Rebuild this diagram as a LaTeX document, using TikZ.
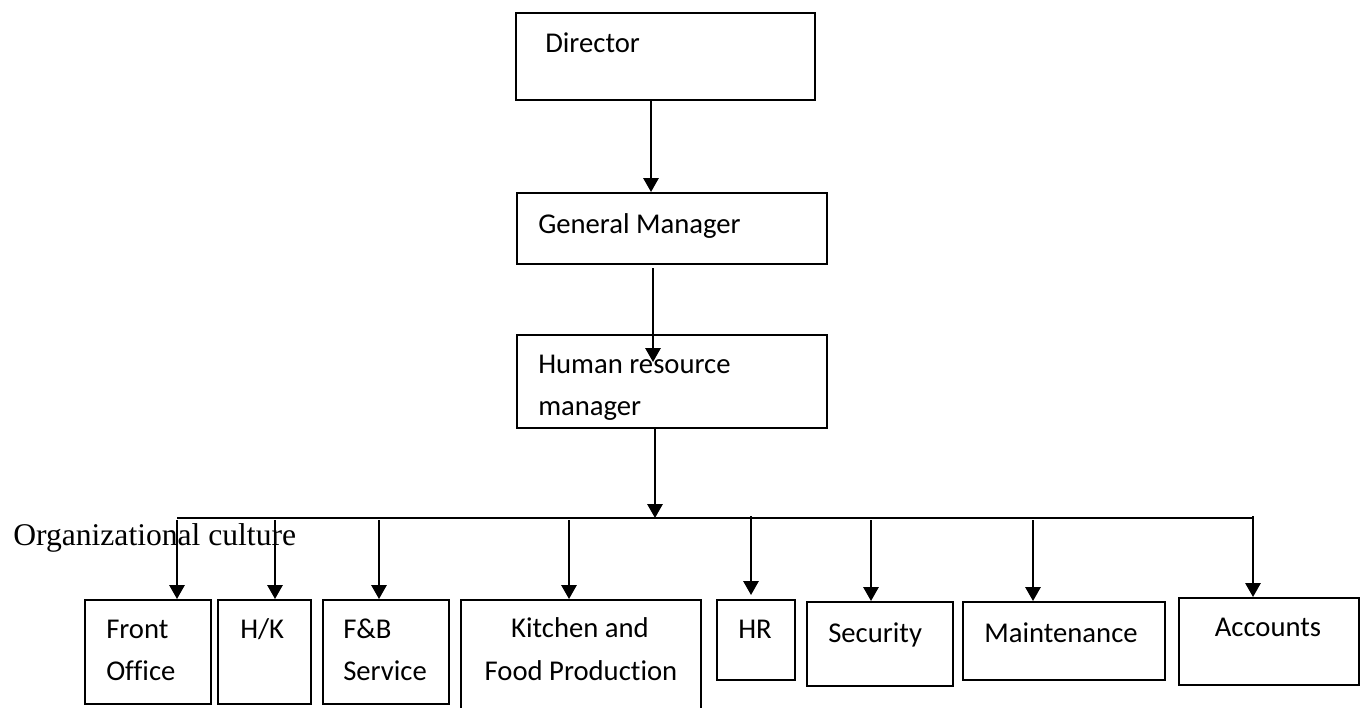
\documentclass[tikz,border=0pt]{standalone}
\usepackage{fontspec}
\setmainfont{Carlito}[Ligatures={NoCommon}]
\newfontfamily\serifface{Liberation Serif}
\usetikzlibrary{arrows.meta,fit}
\tikzset{
  box/.style={draw=black, line width=1.5pt, inner sep=0pt, fit={#1}},
  lbl/.style={inner sep=0pt, font=\fontsize{21.5pt}{30pt}\selectfont},
  arr/.style={line width=1.5pt, -{Triangle[width=11.5pt,length=10.5pt]}},
  bar/.style={line width=1.5pt}
}
\begin{document}
\begin{tikzpicture}[x=0.75pt,y=-0.75pt]
\clip (0,0) rectangle (1364,707);
\fill[white] (0,0) rectangle (1364,707);
% top chain
\node[box={(516,13) (815,100)}] (dir) {};
\node[lbl, anchor=base west] (tdir) at (545,52) {Director};
\node[box={(517,193) (827,264)}] (gm) {};
\node[lbl, anchor=base west] (tgm) at (538,233) {General Manager};
\node[box={(517,335) (827,428)}] (hrm) {};
\node[lbl, anchor=base west] (thrm1) at (538,373) {Human resource};
\node[lbl, anchor=base west] (thrm2) at (538,415) {manager};
\coordinate (c1) at (651,0);
\coordinate (c2) at (653,0);
\coordinate (c3) at (655,0);
\coordinate (barL) at (177,518);
\coordinate (barR) at (1253,518);
\coordinate (gmtip) at (653,362);
\draw[arr] (dir.south -| c1) -- (gm.north -| c1);
\draw[arr] ([yshift=-2.5pt]gm.south -| c2) -- (gmtip);
\draw[arr] (hrm.south -| c3) -- (barL -| c3);
\draw[bar] (barL) -- (barR);
% departments
\node[box={(85,600) (211,704)}] (fo) {};
\node[lbl, anchor=base west] (tfo1) at (106,638) {Front};
\node[lbl, anchor=base west] (tfo2) at (106,680) {Office};
\node[box={(218,600) (311,704)}] (hk) {};
\node[lbl, anchor=base west] (thk) at (240,638) {H/K};
\node[box={(323,600) (449,704)}] (fb) {};
\node[lbl, anchor=base west] (tfb1) at (343,638) {F\&B};
\node[lbl, anchor=base west] (tfb2) at (343,680) {Service};
\node[box={(461,600) (701,730)}] (kit) {};
\node[lbl, anchor=base] (tkit1) at (580,637) {Kitchen and};
\node[lbl, anchor=base] (tkit2) at (581,680) {Food Production};
\node[box={(717,600) (795,680)}] (hr) {};
\node[lbl, anchor=base] (thr) at (755,638) {HR};
\node[box={(807,602) (953,686)}] (sec) {};
\node[lbl, anchor=base west] (tsec) at (828,642) {Security};
\node[box={(963,602) (1165,680)}] (mnt) {};
\node[lbl, anchor=base west] (tmnt) at (984,642) {Maintenance};
\node[box={(1179,598) (1359,685)}] (acc) {};
\node[lbl, anchor=base] (tacc) at (1268,636) {Accounts};
% drops
\coordinate (d1) at (177,520);
\coordinate (d2) at (275,520);
\coordinate (d3) at (379,520);
\coordinate (d4) at (569,520);
\coordinate (d5) at (751,516);
\coordinate (d6) at (871,520);
\coordinate (d7) at (1033,520);
\coordinate (d8) at (1253,516);
\draw[arr] (d1) -- (fo.north -| d1);
\draw[arr] (d2) -- (hk.north -| d2);
\draw[arr] (d3) -- (fb.north -| d3);
\draw[arr] (d4) -- (kit.north -| d4);
\draw[arr] (d5) -- ([yshift=3pt]hr.north -| d5);
\draw[arr] (d6) -- (sec.north -| d6);
\draw[arr] (d7) -- (mnt.north -| d7);
\draw[arr] (d8) -- (acc.north -| d8);
\node[inner sep=0pt, anchor=base west, font=\serifface\fontsize{23.7pt}{28pt}\selectfont] (org) at (13,545) {Organizational culture};
\end{tikzpicture}
\end{document}
